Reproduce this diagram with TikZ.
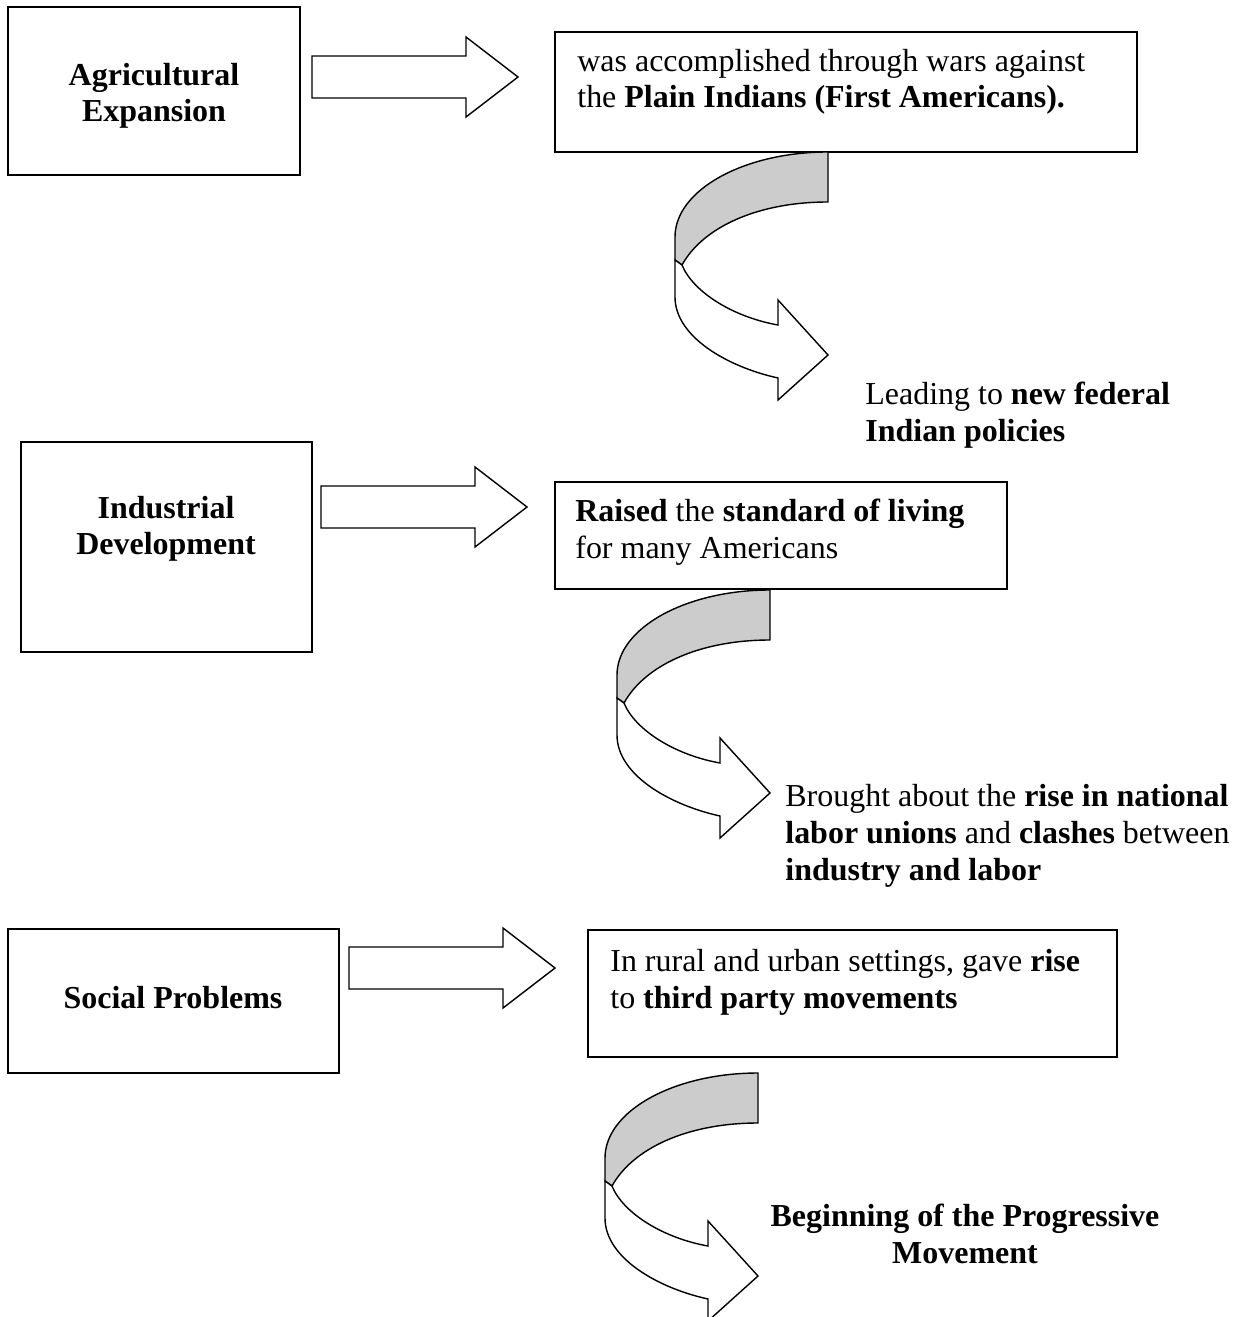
\documentclass[tikz,border=0pt]{standalone}
\usepackage{fontspec}
\setmainfont{Liberation Serif}
\tikzset{
    box/.style={draw,line width=1.3pt},
    block/.style={draw,line width=0.8pt,fill=white,line join=miter},
    twist/.style={block,fill=black!20},
    txt/.style={inner sep=0pt,align=left,font=\fontsize{18.2}{20.8}\selectfont},
    ctxt/.style={txt,align=center}
}
\begin{document}
\begin{tikzpicture}[x=0.02cm,y=-0.02cm]
        \useasboundingbox (0,0) rectangle (1241,1317);
        %% Agricultural expansion
        \draw[box] (8,7) rectangle (300,175);
        \node[ctxt] (agri) at (154,96) {\textbf{Agricultural}\\\textbf{Expansion}};
        \begin{scope}[shift={(312,77)}]
            \draw[block] (0,-21) -- (154,-21) -- (154,-40) -- (206,0) -- (154,40) -- (154,21) -- (0,21) -- cycle;
        \end{scope}
        \draw[box] (555,32) rectangle (1137,152);
        \node[txt,anchor=base west] (wars) at (577,108) {was accomplished through wars against\\the \textbf{Plain Indians (First Americans).}};
        \begin{scope}[shift={(828,152)}]
            \draw[twist] (0,0) .. controls (-84,0) and (-153,38) .. (-153,85) -- (-153,108) -- (-146,113) .. controls (-125,75) and (-70,50) .. (0,50) -- cycle;
            \draw[block] (-153,108) -- (-153,145) .. controls (-153,185) and (-100,215) .. (-50,226) -- (-50,248) -- (0,203) -- (-50,148) -- (-50,173) .. controls (-95,165) and (-135,140) .. (-146,113) -- cycle;
        \end{scope}
        \node[txt,anchor=base west] (policy) at (865,441) {Leading to \textbf{new federal}\\\textbf{Indian policies}};
        %% Industrial development
        \draw[box] (21,442) rectangle (312,652);
        \node[ctxt] (indus) at (166,529) {\textbf{Industrial}\\\textbf{Development}};
        \begin{scope}[shift={(321,507)}]
            \draw[block] (0,-21) -- (154,-21) -- (154,-40) -- (206,0) -- (154,40) -- (154,21) -- (0,21) -- cycle;
        \end{scope}
        \draw[box] (555,482) rectangle (1007,589);
        \node[txt,anchor=base west] (living) at (575,558) {\textbf{Raised} the \textbf{standard of living}\\for many Americans};
        \begin{scope}[shift={(770,590)}]
            \draw[twist] (0,0) .. controls (-84,0) and (-153,38) .. (-153,85) -- (-153,108) -- (-146,113) .. controls (-125,75) and (-70,50) .. (0,50) -- cycle;
            \draw[block] (-153,108) -- (-153,145) .. controls (-153,185) and (-100,215) .. (-50,226) -- (-50,248) -- (0,203) -- (-50,148) -- (-50,173) .. controls (-95,165) and (-135,140) .. (-146,113) -- cycle;
        \end{scope}
        \node[txt,anchor=base west] (unions) at (785,880) {Brought about the \textbf{rise in national}\\\textbf{labor unions} and \textbf{clashes} between\\\textbf{industry and labor}};
        %% Social problems
        \draw[box] (8,929) rectangle (339,1073);
        \node[txt,anchor=base] (social) at (173,1008) {\textbf{Social Problems}};
        \begin{scope}[shift={(349,968)}]
            \draw[block] (0,-21) -- (154,-21) -- (154,-40) -- (206,0) -- (154,40) -- (154,21) -- (0,21) -- cycle;
        \end{scope}
        \draw[box] (588,930) rectangle (1117,1057);
        \node[txt,anchor=base west] (party) at (610,1008) {In rural and urban settings, gave \textbf{rise}\\to \textbf{third party movements}};
        \begin{scope}[shift={(758,1073)}]
            \draw[twist] (0,0) .. controls (-84,0) and (-153,38) .. (-153,85) -- (-153,108) -- (-146,113) .. controls (-125,75) and (-70,50) .. (0,50) -- cycle;
            \draw[block] (-153,108) -- (-153,145) .. controls (-153,185) and (-100,215) .. (-50,226) -- (-50,248) -- (0,203) -- (-50,148) -- (-50,173) .. controls (-95,165) and (-135,140) .. (-146,113) -- cycle;
        \end{scope}
        \node[ctxt,anchor=base] (progress) at (965,1263) {\textbf{Beginning of the Progressive}\\\textbf{Movement}};
    \end{tikzpicture}
\end{document}
